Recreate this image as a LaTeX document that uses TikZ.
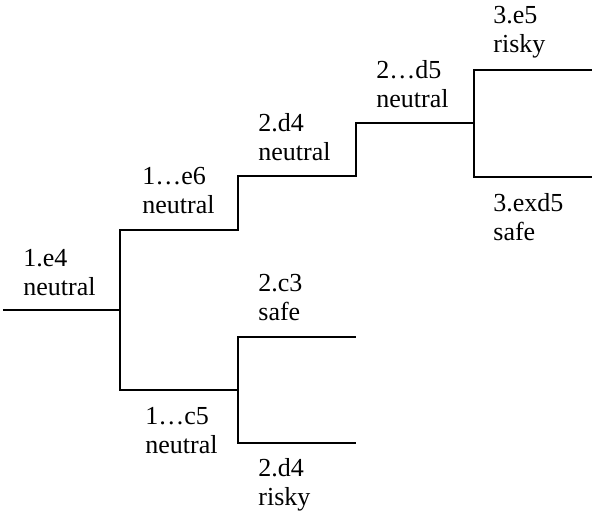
\documentclass[tikz,border=0pt]{standalone}
\usepackage{fontspec}
\setmainfont{Liberation Serif}
\usetikzlibrary{positioning}

\tikzset{
  branch/.style={line width=1pt},
  move/.style={align=left, inner sep=0pt, anchor=base west,
    font={\fontsize{13}{14.5}\selectfont}},
}

\begin{document}
\begin{tikzpicture}
  \coordinate (s);
  \coordinate[right=58.5pt of s] (a);
  \coordinate[above right=40pt and 59pt of a] (b);
  \coordinate[above right=27pt and 59pt of b] (c);
  \coordinate[above right=26.5pt and 59pt of c] (d);
  \coordinate[above right=26.5pt and 59pt of d] (f1);
  \coordinate[below right=27pt and 59pt of d] (f2);
  \coordinate[below right=40pt and 59pt of a] (e);
  \coordinate[above right=26.5pt and 59pt of e] (g1);
  \coordinate[below right=26.5pt and 59pt of e] (g2);
  \useasboundingbox ([shift={(-1.5pt,-102.5pt)}]s) rectangle ++(296pt,257.5pt);

  \draw[branch] (s) -- (a);
  \draw[branch] (a) |- (b) |- (c) |- (d) |- (f1);
  \draw[branch] (d) |- (f2);
  \draw[branch] (a) |- (e) |- (g1);
  \draw[branch] (e) |- (g2);

  \node[above right=7.5pt and 10pt of s, move] (e4) {1.e4\\neutral};
  \node[above left=8.5pt and 48pt of b, move] (e6) {1…e6\\neutral};
  \node[above left=8pt and 49pt of c, move] (d4) {2.d4\\neutral};
  \node[above left=8pt and 49pt of d, move] (d5) {2…d5\\neutral};
  \node[above left=9pt and 49.5pt of f1, move] (e5) {3.e5\\risky};
  \node[below left=31.5pt and 49.5pt of f2, move] (exd5) {3.exd5\\safe};
  \node[above left=8.5pt and 49pt of g1, move] (c3) {2.c3\\safe};
  \node[below left=31.5pt and 46.5pt of e, move] (c5) {1…c5\\neutral};
  \node[below left=31pt and 49pt of g2, move] (d4b) {2.d4\\risky};
\end{tikzpicture}
\end{document}
